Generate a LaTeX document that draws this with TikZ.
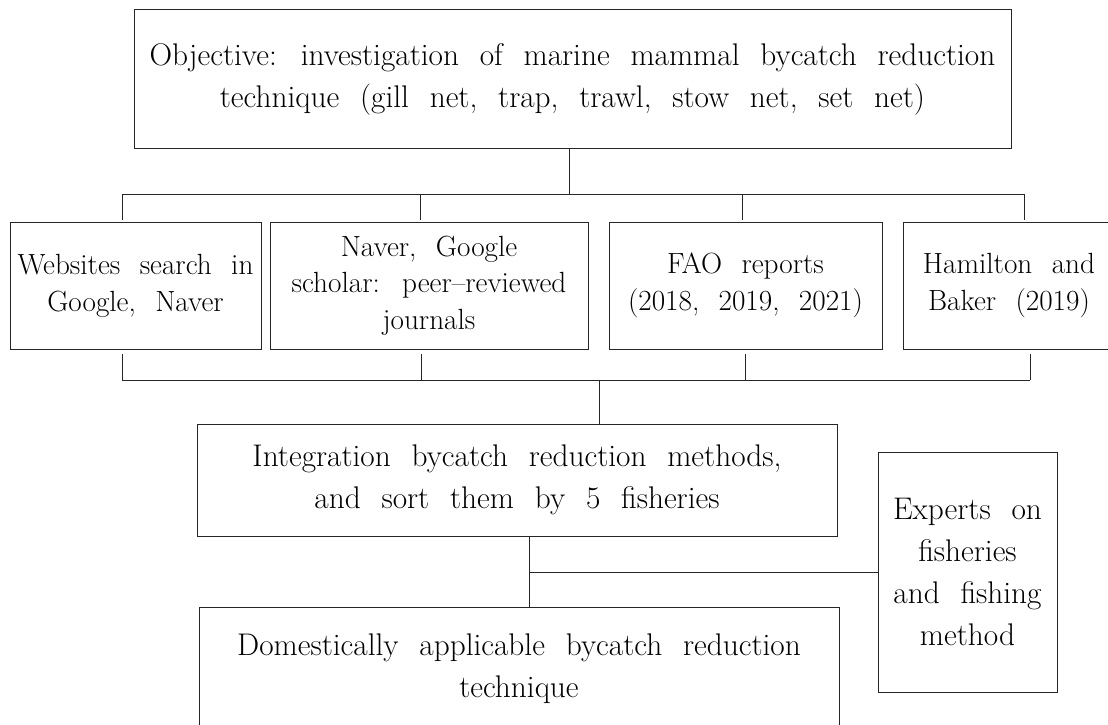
\documentclass[tikz,border=0pt]{standalone}
\usepackage{fontspec}
\setmainfont{Latin Modern Roman}[WordSpace=2.2]
\usepackage[]{xcolor}
\usepackage{tikz}

\tikzset{
  box/.style={draw=black!85, line width=1pt, inner sep=0pt, align=center},
  link/.style={draw=black!85, line width=1pt},
  big/.style={font=\fontsize{31.3}{42}\selectfont},
  small/.style={font=\fontsize{29.2}{36.7}\selectfont},
}

\begin{document}
\begin{tikzpicture}[x=1pt,y=-1pt]
      \clip (0,0) rectangle (1108,725);
      \fill[white] (0,0) rectangle (1108,725);
      % objective
      \node[box,big,minimum width=877,minimum height=138] (obj) at (572.5,79)
        {Objective: investigation of marine mammal bycatch reduction\\
         technique (gill net, trap, trawl, stow net, set net)};
      % sources
      \node[box,small,minimum width=251,minimum height=127] (web) at (135.5,285.5)
        {Websites search in\\ Google, Naver};
      \node[box,small,minimum width=318,minimum height=127] (sch) at (429,285.5)
        {Naver, Google\\ scholar: peer--reviewed\\ journals};
      \node[box,small,minimum width=273,minimum height=127] (fao) at (745.5,285.5)
        {FAO reports\\ (2018, 2019, 2021)};
      \node[box,small,minimum width=212,minimum height=127] (ham) at (1009,285.5)
        {Hamilton and\\ Baker (2019)};
      % results
      \node[box,big,minimum width=640,minimum height=112] (integ) at (517,480)
        {Integration bycatch reduction methods,\\ and sort them by 5 fisheries};
      \node[box,big,minimum width=640,minimum height=124] (dom) at (519,669)
        {Domestically applicable bycatch reduction\\ technique};
      \node[box,big,minimum width=179,minimum height=240] (expert) at (967.5,572)
        {Experts on\\ fisheries\\ and fishing\\ method};
      % upper bus
      \draw[link] (569,194) -- (569,194 |- obj.south);
      \draw[link] (122,194) -- (1024,194);
      \foreach \x/\n in {122/web,420/sch,742/fao,1024/ham}
        \draw[link,shorten >=1.5pt] (\x,194) -- (\x,194 |- \n.north);
      % lower bus
      \foreach \x/\n in {122/web,421/sch,745/fao,1030/ham}
        \draw[link,shorten >=4pt] (\x,380) -- (\x,380 |- \n.south);
      \draw[link] (122,380) -- (1030,380);
      \draw[link] (599,380) -- (599,380 |- integ.north);
      % to the last box
      \draw[link] (529,0 |- integ.south) -- (529,0 |- dom.north);
      \draw[link] (529,572) -- (expert.west);
\end{tikzpicture}
\end{document}
